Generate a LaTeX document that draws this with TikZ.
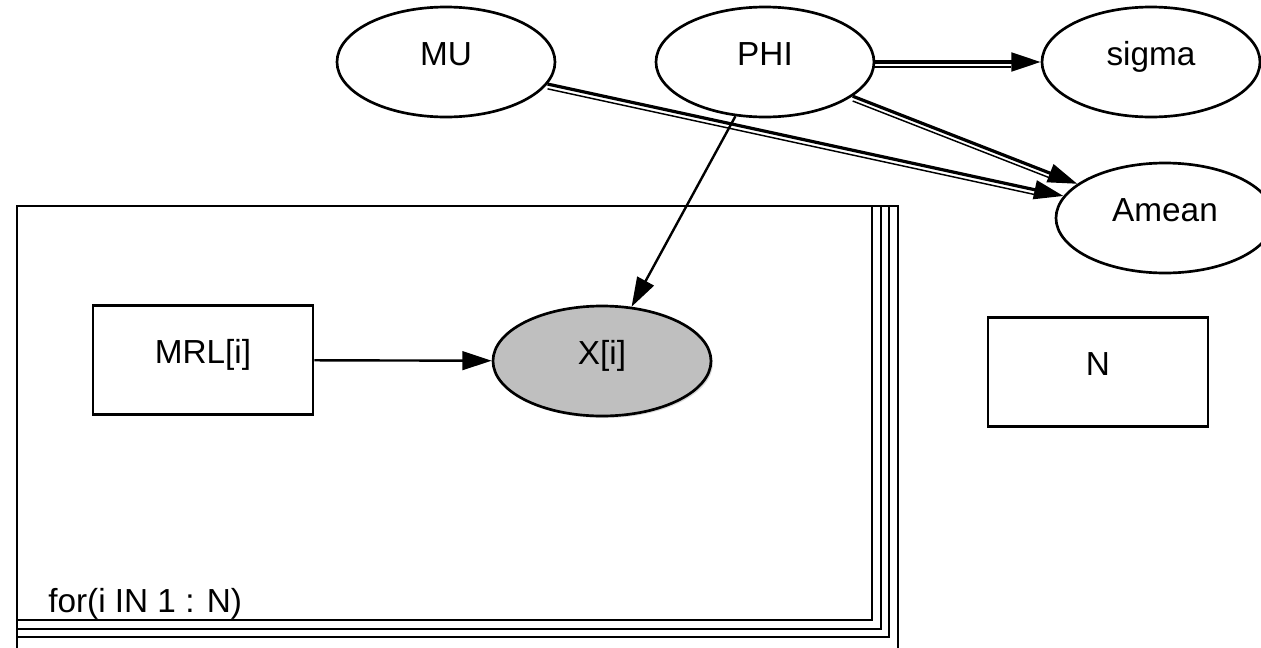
\documentclass[tikz,border=0pt]{standalone}
\usepackage{fontspec}
\setmainfont{Liberation Sans}
\usetikzlibrary{shapes.geometric,arrows.meta,shadows}

\begin{document}
\begin{tikzpicture}[x=0.75pt,y=-0.75pt,
  lbl/.style={font=\fontsize{25}{30}\selectfont, text height=12pt, text depth=7.5pt, inner sep=0pt},
  var/.style={lbl, ellipse, draw, line width=2pt, minimum width=163.5pt, minimum height=82.5pt},
  obs/.style={var, fill=black!25, drop shadow={shadow xshift=1.5pt, shadow yshift=-1.5pt, opacity=0.3}},
  const/.style={lbl, rectangle, draw, line width=2pt, minimum width=165pt, minimum height=82pt},
  plate/.style={line width=2.2pt},
  link/.style={-{Triangle[length=22pt,width=14pt]}, line width=1.8pt},
  dlink/.style={-{Triangle[length=22pt,width=14pt]}, line width=2.4pt},
  dlinkthin/.style={line width=1.1pt, shorten >=22pt, transform canvas={yshift=-3.6pt}}]

\useasboundingbox (0,0) rectangle (1261,647);

% PLATE

\draw[plate] (17,660) -- (17,206) -- (898,206) -- (898,660);
\foreach \xr/\yb in {872/620,881/629,889/637}
  \draw[plate] (17,\yb) -- (\xr,\yb) -- (\xr,206);
\node[font=\fontsize{25}{30}\selectfont, inner sep=0pt, anchor=base west] (platelabel) at (48,612) {for(i IN 1 : N)};

% NODES

\node[var] (MU) at (446,62) {MU};
\node[var] (PHI) at (765,62) {PHI};
\node[var] (sigma) at (1151,62) {sigma};
\node[var] (Amean) at (1165,218) {Amean};
\node[const] (MRL) at (203,360) {MRL[i]};
\node[obs] (X) at (602,361) {X[i]};
\node[const] (N) at (1098,372) {N};

% LINKS

\draw[link] (MRL) -- (X);
\draw[link] (PHI) -- (X);

\draw[dlink] (PHI) -- (sigma);
\draw[dlinkthin] (PHI) -- (sigma);
\draw[dlink] (PHI) -- (Amean);
\draw[dlinkthin] (PHI) -- (Amean);
\draw[dlink] (MU) -- (Amean);
\draw[dlinkthin] (MU) -- (Amean);

\end{tikzpicture}
\end{document}
